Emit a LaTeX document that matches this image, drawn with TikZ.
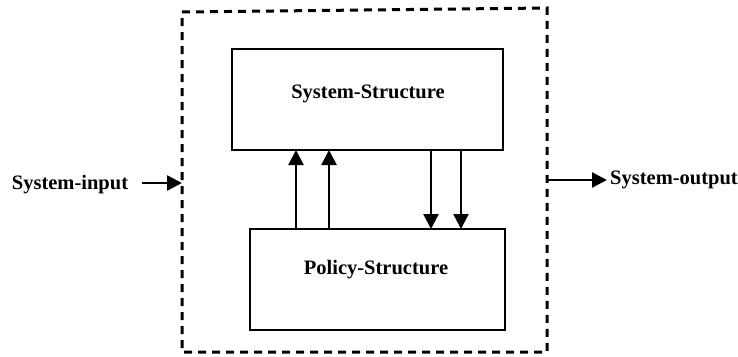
\documentclass[tikz,border=0pt]{standalone}
\usepackage{fontspec}
\setmainfont{Liberation Serif}
\usetikzlibrary{arrows.meta}
\begin{document}
\begin{tikzpicture}[x=1pt,y=-1pt,
  lbl/.style={font=\fontsize{20.5}{23}\selectfont\bfseries, inner sep=0pt},
  block/.style={draw, line width=2.8pt},
  flow/.style={line width=2.4pt, -{Triangle[length=15pt,width=15pt]}},
  frame/.style={draw, line width=3pt, dash pattern=on 8pt off 6pt}]
  \useasboundingbox (0,0) rectangle (738,356);
  % outer system boundary
  \draw[frame] (182,12) -- (547,8) -- (547,352) -- (182,352) -- cycle;
  % inner structures
  \draw[block] (232,49) rectangle (503,150);
  \draw[block] (250,229) rectangle (505,330);
  \node[lbl] (sys) at (368,94) {System-Structure};
  \node[lbl] (pol) at (376,270) {Policy-Structure};
  \coordinate (s1) at (296,150); \coordinate (p1) at (296,229);
  \coordinate (s2) at (329,150); \coordinate (p2) at (329,229);
  \coordinate (s3) at (431,150); \coordinate (p3) at (431,229);
  \coordinate (s4) at (461,150); \coordinate (p4) at (461,229);
  \draw[flow] (p1) -- (s1);
  \draw[flow] (p2) -- (s2);
  \draw[flow] (s3) -- (p3);
  \draw[flow] (s4) -- (p4);
  % external input and output
  \node[lbl] (in) at (70,185) {System-input};
  \coordinate (inS) at (142,183); \coordinate (inE) at (182,183);
  \draw[flow] (inS) -- (inE);
  \node[lbl, anchor=west, inner xsep=3pt] (out) at (607,180) {System-output};
  \coordinate (outS) at (547,180);
  \draw[flow] (outS) -- (outS -| out.west);
\end{tikzpicture}
\end{document}
